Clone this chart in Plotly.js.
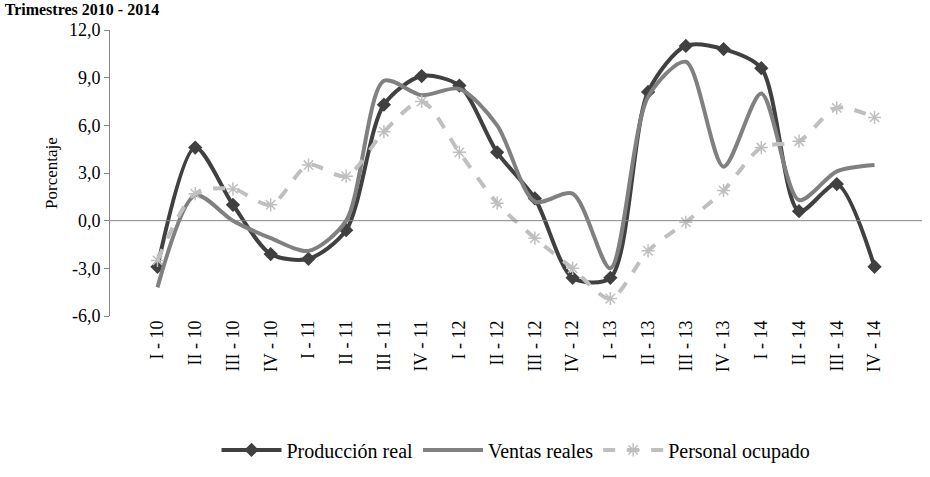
<!DOCTYPE html>
<html>
<head>
<meta charset="utf-8">
<script src="https://cdn.plot.ly/plotly-3.0.1.min.js"></script>
</head>
<body style="margin:0">
<div id="chart" style="width:930px;height:477px"></div>
<script>
// data ---------------------------------------------------------------
const quarters = ["I - 10","II - 10","III - 10","IV - 10","I - 11","II - 11","III - 11","IV - 11",
  "I - 12","II - 12","III - 12","IV - 12","I - 13","II - 13","III - 13","IV - 13",
  "I - 14","II - 14","III - 14","IV - 14"];
const produccion = [-2.9, 4.6, 1.0, -2.1, -2.4, -0.6, 7.3, 9.1, 8.5, 4.3, 1.4, -3.6, -3.6, 8.1, 11.0, 10.8, 9.6, 0.6, 2.3, -2.9];
const ventas = [-4.2, 1.6, 0.0, -1.1, -1.9, 0.0, 8.8, 7.9, 8.3, 6.0, 1.2, 1.7, -3.0, 7.8, 10.0, 3.4, 8.0, 1.3, 3.1, 3.5];
const personal = [-2.5, 1.7, 2.0, 1.0, 3.5, 2.8, 5.6, 7.5, 4.3, 1.1, -1.1, -3.0, -4.9, -1.9, -0.1, 1.9, 4.6, 5.0, 7.1, 6.5];
const yTicks = [-6, -3, 0, 3, 6, 9, 12];

const serif = "Times New Roman, Liberation Serif, serif";

// plot ---------------------------------------------------------------
var data = [
  { x: quarters, y: produccion, mode: "lines+markers", name: "Producción real",
    line: {color: "#404040", width: 4, shape: "spline", smoothing: 0.8},
    marker: {symbol: "diamond", size: 11, color: "#404040"} },
  { x: quarters, y: ventas, mode: "lines", name: "Ventas reales",
    line: {color: "#808080", width: 4, shape: "spline", smoothing: 0.8} },
  { x: quarters, y: personal, mode: "lines+markers", name: "Personal ocupado",
    line: {color: "#bfbfbf", width: 4, dash: "dash", shape: "spline", smoothing: 0.8},
    marker: {symbol: "asterisk-open", size: 11, line: {color: "#a6a6a6", width: 1.5}} }
];
var layout = {
  width: 930, height: 477,
  margin: {l: 110, r: 8, t: 30, b: 145},
  paper_bgcolor: "white", plot_bgcolor: "white",
  font: {family: serif, color: "black", size: 18},
  title: {text: "<b>Trimestres 2010 - 2014</b>", x: 0.005, xref: "container", xanchor: "left",
    y: 0.993, yref: "container", yanchor: "top", font: {family: serif, size: 16}},
  xaxis: {type: "category", tickangle: -90, showgrid: false, showline: false, ticks: "",
    zeroline: false, tickfont: {family: serif, size: 18}},
  yaxis: {range: [-6, 12], tickvals: yTicks, ticktext: yTicks.map(v => v.toFixed(1).replace(".", ",")),
    showgrid: false, zeroline: false, showline: true, linecolor: "#868686", ticks: "outside",
    ticklen: 5, tickcolor: "#868686", tickfont: {family: serif, size: 18},
    title: {text: "Porcentaje", font: {family: serif, size: 17}, standoff: 6}},
  shapes: [{type: "line", xref: "paper", x0: 0, x1: 1, yref: "y", y0: 0, y1: 0,
    line: {color: "#868686", width: 1}}],
  legend: {orientation: "h", x: 0.5, xanchor: "center", y: -0.4, yanchor: "top",
    font: {family: serif, size: 20}, itemwidth: 60},
  showlegend: true
};
Plotly.newPlot("chart", data, layout, {displayModeBar: false});
</script>
</body>
</html>
